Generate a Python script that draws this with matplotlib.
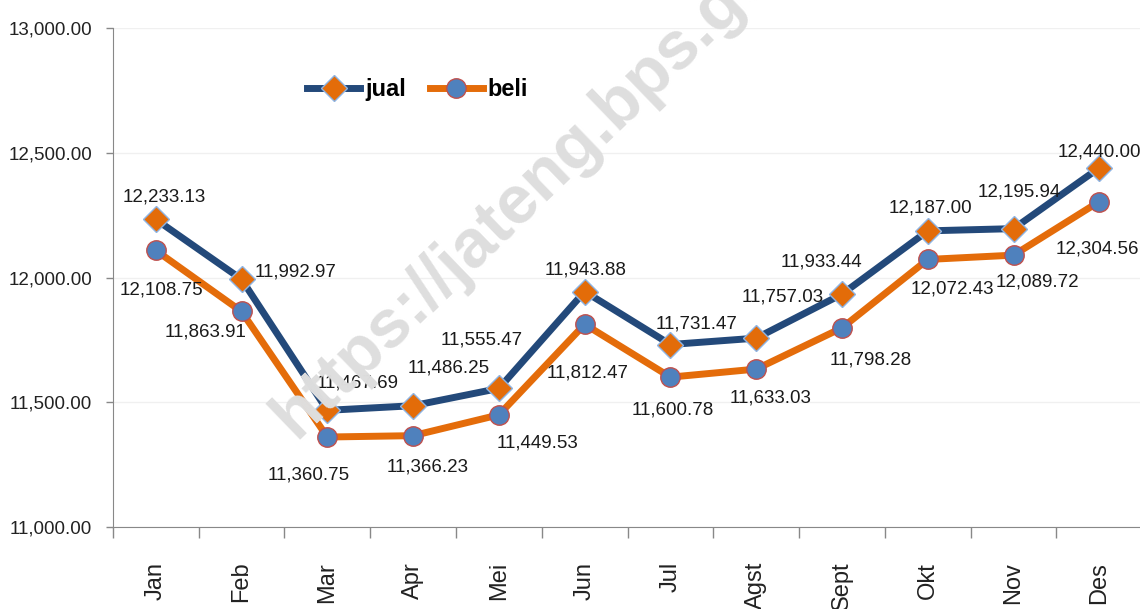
import matplotlib
matplotlib.use('Agg')
import matplotlib.pyplot as plt
import numpy as np
from matplotlib.ticker import FuncFormatter

# data
bulan = ['Jan', 'Feb', 'Mar', 'Apr', 'Mei', 'Jun', 'Jul', 'Agst', 'Sept', 'Okt', 'Nov', 'Des']
jual = [12233.13, 11992.97, 11467.69, 11486.25, 11555.47, 11943.88,
        11731.47, 11757.03, 11933.44, 12187.00, 12195.94, 12440.00]
beli = [12108.75, 11863.91, 11360.75, 11366.23, 11449.53, 11812.47,
        11600.78, 11633.03, 11798.28, 12072.43, 12089.72, 12304.56]

# label offsets (pixels) from each point
off_jual = [(8, 22), (54, 7), (30, 27), (36, 38), (-17, 48), (1, 22),
            (26, 21), (26, 41), (-21, 32), (3, 23), (6, 37), (0, 16)]
off_beli = [(6, -40), (-36, -21), (-19, -38), (15, -31), (39, -28), (3, -49),
            (2, -33), (14, -29), (29, -32), (25, -30), (24, -27), (-2, -47)]

fnt = 'Liberation Sans'
c_jual = '#23497a'
c_beli = '#e46c0a'
c_dia = '#e36c09'
c_dot = '#4f81bd'

fig = plt.figure(figsize=(11.4, 6.09), dpi=100)
ax = fig.add_axes([0.099, 0.1346, 0.903, 0.8194])

x = np.arange(len(bulan))
ax.plot(x, jual, color=c_jual, lw=5, marker='D', ms=13, mfc=c_dia,
        mec='#8eb4e3', mew=1, label='jual', zorder=3)
ax.plot(x, beli, color=c_beli, lw=5, marker='o', ms=14, mfc=c_dot,
        mec='#c0504d', mew=1, label='beli', zorder=3)

for i in range(len(bulan)):
    ax.annotate(f'{jual[i]:,.2f}', (x[i], jual[i]), xytext=off_jual[i],
                textcoords='offset pixels', ha='center', va='center',
                fontsize=13.5, family=fnt, color='#1a1a1a', zorder=4)
    ax.annotate(f'{beli[i]:,.2f}', (x[i], beli[i]), xytext=off_beli[i],
                textcoords='offset pixels', ha='center', va='center',
                fontsize=13.5, family=fnt, color='#1a1a1a', zorder=4)

ax.set_ylim(11000, 13000)
ax.set_xlim(-0.5, len(bulan) - 0.5)
ax.set_yticks([11000, 11500, 12000, 12500, 13000])
ax.yaxis.set_major_formatter(FuncFormatter(lambda v, p: f'{v:,.2f}'))
for lab in ax.get_yticklabels():
    lab.set_family(fnt)
    lab.set_fontsize(13.5)
    lab.set_color('#222222')
ax.tick_params(axis='y', length=5, width=1, color='#888888', pad=10)
ax.grid(axis='y', color='#f0f0f0', lw=1)
ax.set_axisbelow(True)

ax.set_xticks(x)
ax.set_xticklabels(bulan, rotation=90, fontsize=17, family=fnt, va='top', color='#222222')
ax.set_xticks(np.arange(-0.5, len(bulan)), minor=True)
ax.tick_params(axis='x', which='major', length=0, pad=25)
ax.tick_params(axis='x', which='minor', length=8, width=1, color='#888888')

for s in ['top', 'right']:
    ax.spines[s].set_visible(False)
ax.spines['left'].set_color('#888888')
ax.spines['bottom'].set_color('#888888')

leg = ax.legend(loc='center', bbox_to_anchor=(0.296, 0.876), ncol=2, frameon=False,
                prop={'family': fnt, 'weight': 'bold', 'size': 17},
                handlelength=2.25, columnspacing=1.0, handletextpad=0.2)

# watermark
fig.text(0.259, 0.2775, 'https://jateng.bps.go.id', rotation=44, rotation_mode='anchor',
         fontsize=49, fontweight='bold', family=fnt, color='#dedede',
         ha='left', va='baseline', zorder=0)

fig.savefig('out.png', dpi=100)
